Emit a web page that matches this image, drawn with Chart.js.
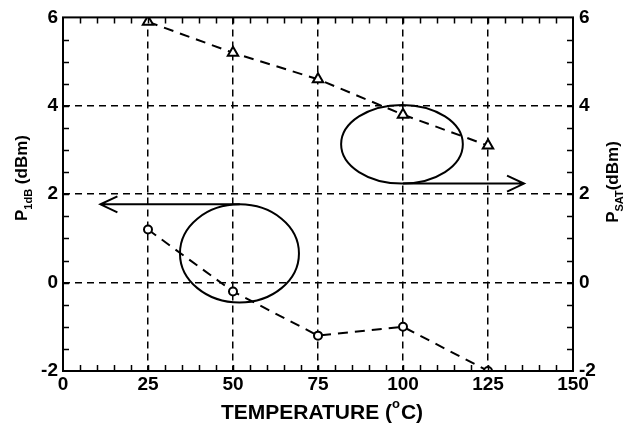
<!DOCTYPE html>
<html>
<head>
<meta charset="utf-8">
<script src="https://cdn.jsdelivr.net/npm/chart.js@4/dist/chart.umd.min.js"></script>
<style>
  html, body { margin: 0; padding: 0; background: #fff; }
  #wrap { width: 623px; height: 428px; position: relative; }
</style>
</head>
<body>
<div id="wrap"><canvas id="c"></canvas></div>
<script>
// data
const temperatures = [25, 50, 75, 100, 125];
const pSat = [5.9, 5.2, 4.6, 3.8, 3.1];
const p1dB = [1.2, -0.2, -1.2, -1.0, -2.0];
const xTicks = [0, 25, 50, 75, 100, 125, 150];
const yTicks = [-2, 0, 2, 4, 6];

// callout ellipses and arrows (data units)
const ellipseCenters = [[51.9, 0.66], [99.7, 3.13]];
const ellipseRadii = [[17.5, 1.11], [17.9, 0.89]];
const arrowFrom = [[52, 1.77], [100, 2.24]];
const arrowTo = [[11, 1.77], [135.6, 2.24]];

const FONT = "'Liberation Sans', Arial, sans-serif";

const decor = {
    id: "decor",
    afterDraw(chart) {
        const { ctx, chartArea: a, scales } = chart;
        const x = scales.x, y = scales.y;
        ctx.save();
        ctx.strokeStyle = "#000";
        ctx.fillStyle = "#000";
        ctx.setLineDash([]);

        // frame
        ctx.lineWidth = 2;
        ctx.strokeRect(a.left, a.top, a.right - a.left, a.bottom - a.top);

        // minor ticks, inside
        ctx.lineWidth = 1.5;
        ctx.beginPath();
        for (let v = 5; v < 150; v += 5) {
            const px = Math.round(x.getPixelForValue(v)) + 0.5;
            ctx.moveTo(px, a.bottom); ctx.lineTo(px, a.bottom - 6);
            ctx.moveTo(px, a.top); ctx.lineTo(px, a.top + 6);
        }
        for (let v = -1.5; v < 6; v += 0.5) {
            const py = Math.round(y.getPixelForValue(v)) + 0.5;
            ctx.moveTo(a.left, py); ctx.lineTo(a.left + 6, py);
            ctx.moveTo(a.right, py); ctx.lineTo(a.right - 6, py);
        }
        ctx.stroke();

        // ellipses
        ctx.lineWidth = 2;
        ellipseCenters.forEach((c, i) => {
            const cx = x.getPixelForValue(c[0]);
            const cy = y.getPixelForValue(c[1]);
            const rx = x.getPixelForValue(c[0] + ellipseRadii[i][0]) - cx;
            const ry = cy - y.getPixelForValue(c[1] + ellipseRadii[i][1]);
            ctx.beginPath();
            ctx.ellipse(cx, cy, rx, ry, 0, 0, Math.PI * 2);
            ctx.stroke();
        });

        // arrows
        arrowFrom.forEach((f, i) => {
            const x1 = x.getPixelForValue(f[0]), y1 = y.getPixelForValue(f[1]);
            const x2 = x.getPixelForValue(arrowTo[i][0]), y2 = y.getPixelForValue(arrowTo[i][1]);
            const dir = Math.sign(x2 - x1);
            ctx.beginPath();
            ctx.moveTo(x1, y1); ctx.lineTo(x2, y2);
            ctx.moveTo(x2 - dir * 17, y2 - 8); ctx.lineTo(x2, y2); ctx.lineTo(x2 - dir * 17, y2 + 8);
            ctx.stroke();
        });

        // axis titles
        ctx.textBaseline = "alphabetic";
        ctx.textAlign = "left";
        const bigX = "bold 21px " + FONT, small = "bold 13px " + FONT;
        const t1 = "TEMPERATURE (", t3 = "C)";
        ctx.font = small; const wo = ctx.measureText("o").width;
        ctx.font = bigX;
        const w1 = ctx.measureText(t1).width, w3 = ctx.measureText(t3).width;
        let sx = 322 - (w1 + wo + 1 + w3) / 2;
        ctx.fillText(t1, sx, 419);
        ctx.font = small; ctx.fillText("o", sx + w1, 408);
        ctx.font = bigX; ctx.fillText(t3, sx + w1 + wo + 1, 419);

        const vTitle = (cx, cy, sub, rest) => {
            ctx.save();
            ctx.translate(cx, cy);
            ctx.rotate(-Math.PI / 2);
            const big = "bold 17px " + FONT, sm = "bold 11px " + FONT;
            ctx.font = big; const wp = ctx.measureText("P").width, wr = ctx.measureText(rest).width;
            ctx.font = sm; const ws = ctx.measureText(sub).width;
            const total = wp + ws + wr;
            let p = -total / 2;
            ctx.font = big; ctx.fillText("P", p, 0); p += wp;
            ctx.font = sm; ctx.fillText(sub, p, 5); p += ws;
            ctx.font = big; ctx.fillText(rest, p, 0);
            ctx.restore();
        };
        vTitle(27, 178, "1dB", " (dBm)");
        vTitle(618, 182, "SAT", "(dBm)");
        ctx.restore();
    }
};

const tickFont = { family: FONT, size: 19, weight: "bold" };

new Chart(document.getElementById("c"), {
    type: "scatter",
    data: {
        datasets: [
            {
                data: temperatures.map((t, i) => ({ x: t, y: pSat[i] })),
                showLine: true,
                borderColor: "#000",
                borderWidth: 2,
                borderDash: [10, 7],
                pointStyle: "triangle",
                pointRadius: 6,
                pointBorderWidth: 2,
                pointBackgroundColor: "#fff",
                pointBorderColor: "#000",
                yAxisID: "y",
            },
            {
                data: temperatures.map((t, i) => ({ x: t, y: p1dB[i] })),
                showLine: true,
                borderColor: "#000",
                borderWidth: 2,
                borderDash: [10, 7],
                pointStyle: "circle",
                pointRadius: 4,
                pointBorderWidth: 2,
                pointBackgroundColor: "#fff",
                pointBorderColor: "#000",
                yAxisID: "y",
            },
        ],
    },
    options: {
        responsive: true,
        maintainAspectRatio: false,
        animation: false,
        layout: { padding: { top: 14, left: 0, right: 0, bottom: 0 } },
        plugins: { legend: { display: false }, tooltip: { enabled: false } },
        scales: {
            x: {
                type: "linear",
                min: 0, max: 150,
                afterBuildTicks: s => { s.ticks = xTicks.map(v => ({ value: v })); },
                afterFit: s => { s.height = 57; },
                ticks: { color: "#000", font: tickFont, padding: 2 },
                grid: {
                    drawTicks: false,
                    color: c => (c.tick && c.tick.value > 0 && c.tick.value < 150) ? "#000" : "rgba(0,0,0,0)",
                    lineWidth: 1.5,
                },
                border: { display: false, dash: [7, 5] },
            },
            y: {
                type: "linear",
                position: "left",
                min: -2, max: 6,
                afterBuildTicks: s => { s.ticks = yTicks.map(v => ({ value: v })); },
                afterFit: s => { s.width = 63; },
                ticks: { color: "#000", font: tickFont, padding: 5 },
                grid: {
                    drawTicks: false,
                    color: c => (c.tick && c.tick.value > -2 && c.tick.value < 6) ? "#000" : "rgba(0,0,0,0)",
                    lineWidth: 1.5,
                },
                border: { display: false, dash: [7, 5] },
            },
            y2: {
                type: "linear",
                position: "right",
                min: -2, max: 6,
                afterBuildTicks: s => { s.ticks = yTicks.map(v => ({ value: v })); },
                afterFit: s => { s.width = 50; },
                ticks: { color: "#000", font: tickFont, padding: 6 },
                grid: { display: false, drawTicks: false },
                border: { display: false },
            },
        },
    },
    plugins: [decor],
});
</script>
</body>
</html>
